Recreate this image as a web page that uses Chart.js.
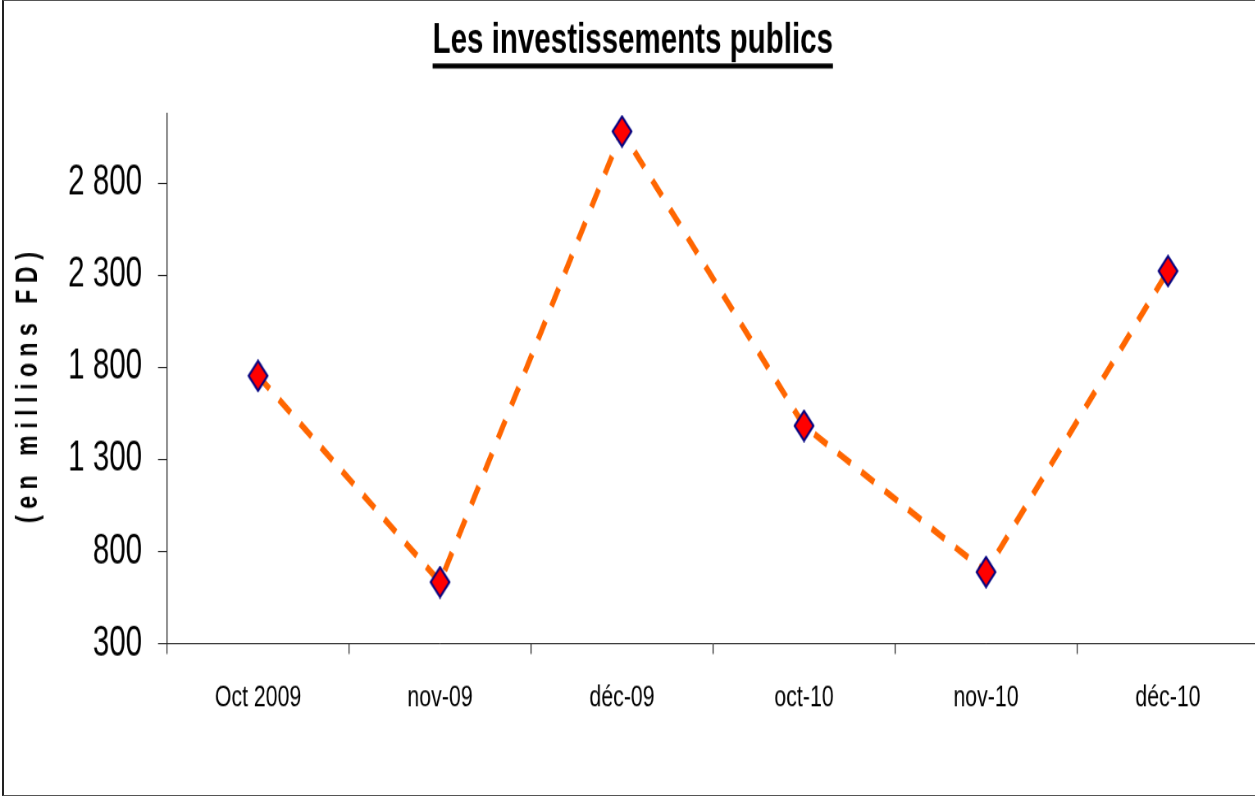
<!DOCTYPE html>
<html>
<head>
<meta charset="utf-8">
<title>Les investissements publics</title>
<script src="https://cdn.jsdelivr.net/npm/chart.js@4.4.1/dist/chart.umd.min.js"></script>
<style>
  html, body { margin: 0; padding: 0; background: #fff; overflow: hidden; }
  #wrap { position: relative; width: 1255px; height: 796px; overflow: hidden; background: #fff; }
  #c { position: absolute; left: 0; top: 0; }
  #frame { position: absolute; left: 2px; top: 0; width: 1300px; height: 796px; border: 1px solid #555; border-left: 2px solid #222; box-sizing: border-box; pointer-events: none; }
</style>
</head>
<body>
<div id="wrap">
  <!-- drawn at 1539x692 and shown at 1262x796: the reference uses a narrow font
       and is stretched vertically, so the canvas is squeezed/stretched by css -->
  <canvas id="c" width="1539" height="692" style="width:1262px;height:796px"></canvas>
  <div id="frame"></div>
</div>
<script>
// Les investissements publics - monthly values, Oct 2009 to déc-10

const months = ['Oct 2009', 'nov-09', 'déc-09', 'oct-10', 'nov-10', 'déc-10'];
const investments = [1755, 635, 3082, 1484, 690, 2324];
const yTicks = [300, 800, 1300, 1800, 2300, 2800];
const yMin = 300;
const yMax = 3180;

const chartTitle = 'Les investissements publics';
const yTitle = '(en millions FD)';

const fontFamily = "'Liberation Sans', Arial, sans-serif";
const titleSize = 36;
const yTitleSize = 20;
const yTitlePadTop = 14.8;

function formatThousands(v) {
  return String(v).replace(/\B(?=(\d{3})+(?!\d))/g, ' ');
}

// tall red diamond with a navy edge
function makeDiamond() {
  const c = document.createElement('canvas');
  c.width = 27;
  c.height = 29;
  const g = c.getContext('2d');
  g.beginPath();
  g.moveTo(13.5, 1.5);
  g.lineTo(25, 14.5);
  g.lineTo(13.5, 27.5);
  g.lineTo(2, 14.5);
  g.closePath();
  g.fillStyle = '#FF0000';
  g.fill();
  g.lineWidth = 2.2;
  g.strokeStyle = '#000080';
  g.stroke();
  return c;
}

// ========== underline under the chart title ==========
const underlineTitle = {
  id: 'underlineTitle',
  afterDraw(chart) {
    const t = chart.titleBlock;
    if (!t) return;
    const ctx = chart.ctx;
    ctx.save();
    ctx.font = 'bold ' + titleSize + 'px ' + fontFamily;
    const w = ctx.measureText(chartTitle).width;
    const cx = (t.left + t.right) / 2;
    ctx.fillStyle = '#000';
    ctx.fillRect(cx - w / 2, 55.2, w, 4.3);
    ctx.restore();
  }
};

// ========== spaced, widened y axis title ==========
const spacedAxisTitle = {
  id: 'spacedAxisTitle',
  afterLayout(chart) {
    const s = chart.scales.y;
    if (!s || s._spacedTitle) return;
    const orig = s.drawTitle;
    s.drawTitle = function (area) {
      const ctx = this.ctx;
      const cx = this.left + yTitlePadTop + yTitleSize * 1.2 / 2;
      ctx.save();
      ctx.letterSpacing = '5.7px';
      ctx.translate(cx, 5);
      ctx.scale(1.85, 1);
      ctx.translate(-cx, 0);
      orig.call(this, area);
      ctx.restore();
    };
    s._spacedTitle = true;
  }
};

document.addEventListener('DOMContentLoaded', () => {
  if (typeof Chart === 'undefined') {
    console.error('Chart.js not loaded!');
    return;
  }

  new Chart(document.getElementById('c'), {
    type: 'line',
    data: {
      labels: months,
      datasets: [{
        data: investments,
        borderColor: '#FF6600',
        borderWidth: 6,
        borderDash: [18, 15],
        fill: false,
        tension: 0,
        pointStyle: makeDiamond(),
        pointRadius: 12,
        pointHoverRadius: 12
      }]
    },
    options: {
      responsive: false,
      animation: false,
      layout: { autoPadding: false, padding: { left: 8, right: 3.7, top: 0, bottom: 0 } },
      plugins: {
        legend: { display: false },
        tooltip: { enabled: false },
        title: {
          display: true,
          text: chartTitle,
          color: '#000',
          font: { family: fontFamily, size: titleSize, weight: 'bold' },
          padding: { top: 14, bottom: 41.3 }
        }
      },
      scales: {
        x: {
          type: 'category',
          offset: true,
          grid: { offset: true, drawOnChartArea: false, tickLength: 8.7, color: '#222', lineWidth: 1.2 },
          border: { color: '#222', width: 1 },
          ticks: {
            color: '#000',
            font: { family: fontFamily, size: 26 },
            padding: 23.2,
            maxRotation: 0,
            autoSkip: false
          },
          afterFit: (s) => {
            s.height = 132.3;
            s.paddingLeft = 0;
            s.paddingRight = 0;
          }
        },
        y: {
          min: yMin,
          max: yMax,
          afterBuildTicks: (s) => { s.ticks = yTicks.map(v => ({ value: v })); },
          grid: { drawOnChartArea: false, tickLength: 11, color: '#222' },
          border: { color: '#222', width: 1.3 },
          ticks: {
            color: '#000',
            font: { family: fontFamily, size: 36 },
            padding: 19.5,
            callback: (v) => formatThousands(v)
          },
          title: {
            display: true,
            text: yTitle,
            color: '#000',
            font: { family: fontFamily, size: yTitleSize, weight: 'bold' },
            padding: { top: yTitlePadTop, bottom: 0 }
          },
          afterFit: (s) => { s.width = 195.7; }
        }
      }
    },
    plugins: [underlineTitle, spacedAxisTitle]
  });
});
</script>
</body>
</html>
